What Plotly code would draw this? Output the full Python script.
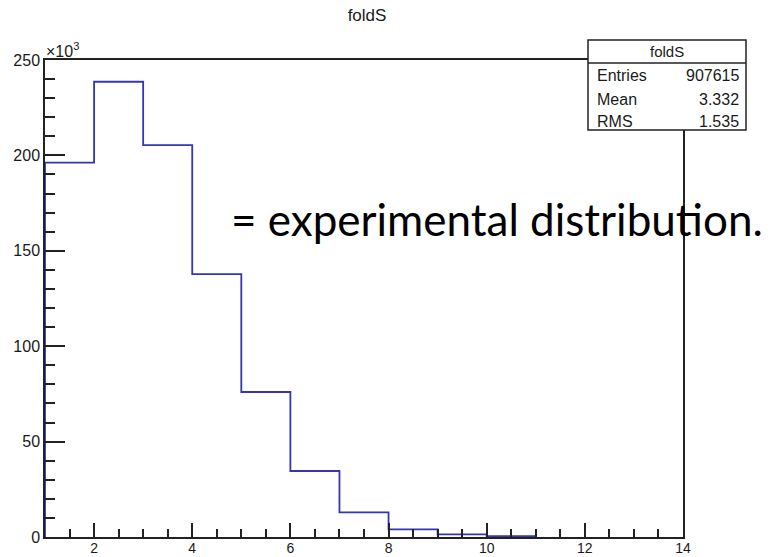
import plotly.graph_objects as go

# ---- data (counts in units of 10^3) ----
bin_edges = [1, 2, 3, 4, 5, 6, 7, 8, 9, 10, 11]
bin_counts = [196.2, 238.6, 205.4, 137.8, 76.0, 34.6, 12.9, 4.0, 1.4, 0.5]
hist_name = "foldS"
stat_labels = ["Entries", "Mean", "RMS"]
stat_values = ["907615", "3.332", "1.535"]
x_ticks = [2, 4, 6, 8, 10, 12, 14]
y_ticks = [0, 50, 100, 150, 200, 250]

# step outline built from bins
xs, ys = [bin_edges[0]], [0]
for i, c in enumerate(bin_counts):
    xs += [bin_edges[i], bin_edges[i + 1]]
    ys += [c, c]
xs.append(bin_edges[-1])
ys.append(0)

NARROW = "Liberation Sans Narrow, Arial Narrow, Liberation Sans, Arial"
TXT = "#1a1a1a"

fig = go.Figure()
fig.add_trace(go.Scatter(x=xs, y=ys, mode="lines",
                         line=dict(color="#3535b5", width=1.8),
                         hoverinfo="skip", showlegend=False))

L, R, T, B = 45, 683, 60, 537
W, H = 775, 557
pw, ph = R - L, B - T
def px(x):
    return (x - L) / pw
def py(y):
    return (B - y) / ph

fig.update_layout(
    width=W, height=H,
    margin=dict(l=L, r=W - R, t=T, b=H - B, autoexpand=False),
    paper_bgcolor="white", plot_bgcolor="white",
    showlegend=False,
    title=dict(text=hist_name, x=367 / W, y=1 - 15 / H, xanchor="center", yanchor="middle",
               font=dict(family=NARROW, size=17, color=TXT)),
    xaxis=dict(range=[1, 14], tickvals=x_ticks, ticks="inside", ticklen=14, tickwidth=1.5,
               tickcolor="#222", showline=True, linecolor="#222", linewidth=1.5, mirror=True,
               showgrid=False, zeroline=False, automargin=False, ticklabelstandoff=-3,
               minor=dict(ticks="inside", ticklen=8, tickwidth=1.5, tickcolor="#222", dtick=0.5, showgrid=False),
               tickfont=dict(family=NARROW, size=14, color=TXT)),
    yaxis=dict(range=[0, 250], tickvals=y_ticks, ticks="inside", ticklen=20, tickwidth=1.5,
               tickcolor="#222", showline=True, linecolor="#222", linewidth=1.5, mirror=True,
               showgrid=False, zeroline=False, automargin=False,
               minor=dict(ticks="inside", ticklen=10, tickwidth=1.5, tickcolor="#222", dtick=10, showgrid=False),
               tickfont=dict(family=NARROW, size=16, color=TXT)),
)

# ×10^3 exponent label
fig.add_annotation(xref="paper", yref="paper", x=px(44), y=py(62), xanchor="left", yanchor="bottom",
                   text="×10<sup>3</sup>", showarrow=False,
                   font=dict(family=NARROW, size=16, color=TXT))

# stats box
bx0, bx1, by0, by1, bdiv = 588, 746, 130, 40, 63
fig.add_shape(type="rect", xref="paper", yref="paper", x0=px(bx0), x1=px(bx1), y0=py(by0), y1=py(by1),
              fillcolor="white", line=dict(color="#222", width=1.5), layer="above")
fig.add_shape(type="line", xref="paper", yref="paper", x0=px(bx0), x1=px(bx1), y0=py(bdiv), y1=py(bdiv),
              line=dict(color="#222", width=1.5), layer="above")
fig.add_annotation(xref="paper", yref="paper", x=px((bx0 + bx1) / 2), y=py(52), text=hist_name,
                   showarrow=False, xanchor="center", yanchor="middle",
                   font=dict(family=NARROW, size=15, color=TXT))
row_y = [75, 99, 121]
for lab, val, yy in zip(stat_labels, stat_values, row_y):
    fig.add_annotation(xref="paper", yref="paper", x=px(595), y=py(yy), text=lab, showarrow=False,
                       xanchor="left", yanchor="middle", font=dict(family=NARROW, size=16, color=TXT))
    fig.add_annotation(xref="paper", yref="paper", x=px(741), y=py(yy), text=val, showarrow=False,
                       xanchor="right", yanchor="middle", font=dict(family=NARROW, size=16, color=TXT))

# overlay text
fig.add_annotation(xref="paper", yref="paper", x=px(229), y=py(219),
                   text="= experimental distribution.", showarrow=False,
                   xanchor="left", yanchor="middle",
                   font=dict(family="Lato, Open Sans, sans-serif", size=44, color="black"))

fig.write_html("out.html")
